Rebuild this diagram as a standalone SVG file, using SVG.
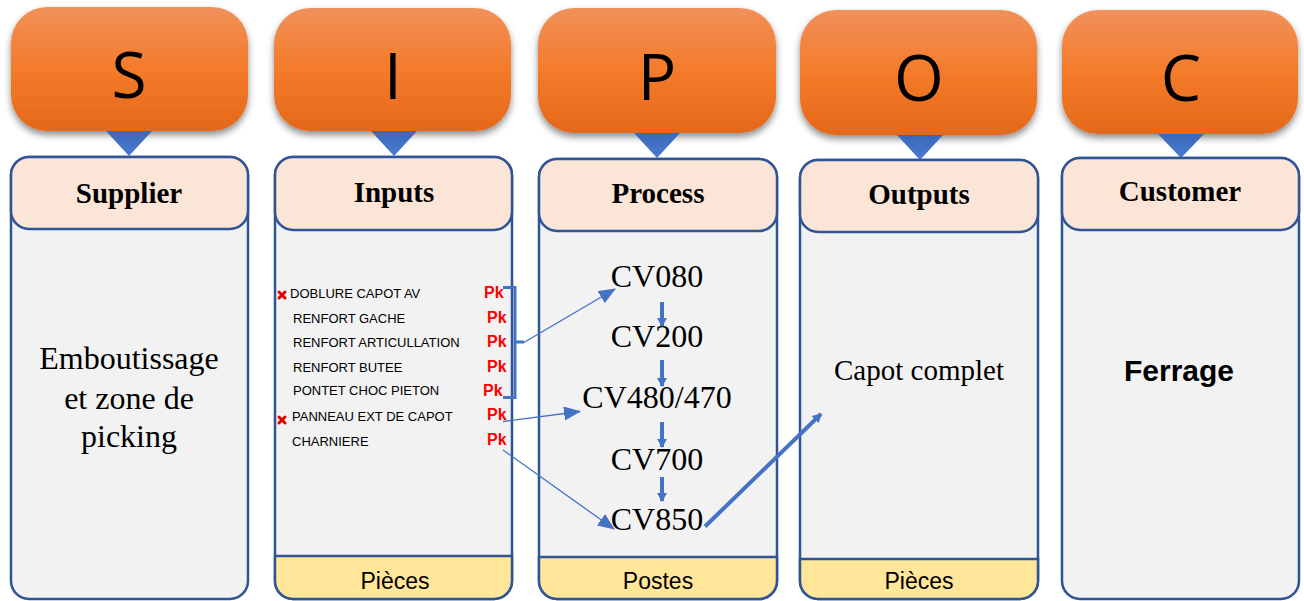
<svg xmlns="http://www.w3.org/2000/svg" width="1304" height="601" viewBox="0 0 1304 601">
<defs>
<linearGradient id="og" x1="0" y1="0" x2="0" y2="1">
<stop offset="0" stop-color="#F0915B"/>
<stop offset="0.5" stop-color="#F47B2A"/>
<stop offset="1" stop-color="#E4681A"/>
</linearGradient>
<linearGradient id="bg" x1="0" y1="0" x2="0" y2="1">
<stop offset="0" stop-color="#3B68B8"/>
<stop offset="1" stop-color="#4A7BD2"/>
</linearGradient>
<filter id="sh" x="-10%" y="-10%" width="120%" height="130%">
<feDropShadow dx="0" dy="4" stdDeviation="3.5" flood-color="#000" flood-opacity="0.45"/>
</filter>
<marker id="ah" markerUnits="userSpaceOnUse" markerWidth="18" markerHeight="14" refX="16" refY="7" orient="auto">
<path d="M0,0 L17,7 L0,14 Z" fill="#4472C4"/>
</marker>
<marker id="as" markerUnits="userSpaceOnUse" markerWidth="10" markerHeight="10" refX="8" refY="5" orient="auto">
<path d="M0,0 L9,5 L0,10 Z" fill="#4472C4"/>
</marker>
<style>
.orange{fill:url(#og);filter:url(#sh)}
.tri{fill:url(#bg)}
.col{fill:#F2F2F2;stroke:#2F5597;stroke-width:2.5}
.hdr{fill:#FBE5D6;stroke:#2F5597;stroke-width:2.5}
.band{fill:#FFE699;stroke:#2F5597;stroke-width:2.5}
.big{font-family:"Open Sans","Liberation Sans",sans-serif;font-size:64px;fill:#000;text-anchor:middle}
.ht{font-family:"Liberation Serif",serif;font-weight:bold;font-size:29px;fill:#000;text-anchor:middle}
.ser{font-family:"Liberation Serif",serif;font-size:32px;fill:#000;text-anchor:middle}
.cv{font-family:"Liberation Serif",serif;font-size:32px;fill:#000;text-anchor:middle}
.it{font-family:"Liberation Sans",sans-serif;font-size:13px;fill:#000}
.pk{font-family:"Liberation Sans",sans-serif;font-size:16px;font-weight:bold;fill:#FF0000}
.bt{font-family:"Liberation Sans",sans-serif;font-size:23px;fill:#000;text-anchor:middle}
.thin{stroke:#4472C4;stroke-width:1.3;fill:none}
.thick{stroke:#4472C4;stroke-width:4;fill:none}
.xm{stroke:#E00000;stroke-width:3;stroke-linecap:round}
</style>
</defs>
<rect width="1304" height="601" fill="#FFFFFF"/>

<g id="supplier">
<rect class="orange" x="11" y="7" width="237" height="124" rx="36"/>
<text class="big" x="129" y="98">S</text>
<path class="tri" d="M106,131 H152 L129,156 Z"/>
<rect class="col" x="11" y="157" width="237" height="442" rx="18"/>
<rect class="hdr" x="11" y="157" width="237" height="72" rx="18"/>
<text class="ht" x="129" y="203">Supplier</text>
<text class="ser" x="129" y="369">Emboutissage</text>
<text class="ser" x="129" y="409">et zone de</text>
<text class="ser" x="129" y="447">picking</text>
</g>

<g id="inputs">
<rect class="orange" x="274" y="8" width="237" height="123" rx="36"/>
<text class="big" x="393" y="99">I</text>
<path class="tri" d="M371,131 H417 L394,156 Z"/>
<rect class="col" x="275" y="157" width="237" height="442" rx="18"/>
<path class="band" d="M275,556 H512 V581 A18,18 0 0 1 494,599 H293 A18,18 0 0 1 275,581 Z"/>
<rect class="hdr" x="275" y="157" width="237" height="73" rx="18"/>
<text class="ht" x="394" y="202">Inputs</text>
<text class="bt" x="395" y="589">Pièces</text>
<path class="xm" d="M279,292 L285,298 M285,292 L279,298"/>
<path class="xm" d="M279,417 L285,423 M285,417 L279,423"/>
<text class="it" x="290" y="298">DOBLURE CAPOT AV</text>
<text class="it" x="293" y="323">RENFORT GACHE</text>
<text class="it" x="293" y="347">RENFORT ARTICULLATION</text>
<text class="it" x="293" y="372">RENFORT BUTEE</text>
<text class="it" x="293" y="395">PONTET CHOC PIETON</text>
<text class="it" x="292" y="421">PANNEAU EXT DE CAPOT</text>
<text class="it" x="292" y="446">CHARNIERE</text>
<text class="pk" x="484" y="298">Pk</text>
<text class="pk" x="487" y="323">Pk</text>
<text class="pk" x="487" y="347">Pk</text>
<text class="pk" x="487" y="372">Pk</text>
<text class="pk" x="483" y="396">Pk</text>
<text class="pk" x="487" y="420">Pk</text>
<text class="pk" x="487" y="445">Pk</text>
<path d="M503,287.5 H515 V397.5 H503 M515,342 H524" fill="none" stroke="#4472C4" stroke-width="3"/>
</g>

<g id="process">
<rect class="orange" x="538" y="8" width="238" height="125" rx="36"/>
<text class="big" x="657" y="100">P</text>
<path class="tri" d="M634,133 H680 L657,158 Z"/>
<rect class="col" x="539" y="159" width="238" height="440" rx="18"/>
<path class="band" d="M539,557 H777 V581 A18,18 0 0 1 759,599 H557 A18,18 0 0 1 539,581 Z"/>
<rect class="hdr" x="539" y="159" width="238" height="72" rx="18"/>
<text class="ht" x="658" y="203">Process</text>
<text class="bt" x="658" y="589">Postes</text>
<text class="cv" x="657" y="287">CV080</text>
<text class="cv" x="657" y="347">CV200</text>
<text class="cv" x="657" y="408">CV480/470</text>
<text class="cv" x="657" y="470">CV700</text>
<text class="cv" x="657" y="530">CV850</text>
</g>

<g id="outputs">
<rect class="orange" x="800" y="10" width="237" height="125" rx="36"/>
<text class="big" x="919" y="101">O</text>
<path class="tri" d="M897,135 H943 L920,160 Z"/>
<rect class="col" x="800" y="160" width="238" height="439" rx="18"/>
<path class="band" d="M800,559 H1038 V581 A18,18 0 0 1 1020,599 H818 A18,18 0 0 1 800,581 Z"/>
<rect class="hdr" x="800" y="160" width="238" height="72" rx="18"/>
<text class="ht" x="919" y="204">Outputs</text>
<text class="bt" x="919" y="589">Pièces</text>
<text class="ser" x="919" y="380" style="font-size:29px">Capot complet</text>
</g>

<g id="customer">
<rect class="orange" x="1062" y="10" width="236" height="124" rx="36"/>
<text class="big" x="1181" y="101">C</text>
<path class="tri" d="M1158,134 H1204 L1181,158 Z"/>
<rect class="col" x="1062" y="158" width="237" height="441" rx="18"/>
<rect class="hdr" x="1062" y="158" width="237" height="72" rx="18"/>
<text class="ht" x="1180" y="201">Customer</text>
<text x="1179" y="381" style="font-family:'Liberation Sans',sans-serif;font-weight:bold;font-size:30px;text-anchor:middle;fill:#000">Ferrage</text>
</g>

<g id="connectors">
<line class="thin" x1="523" y1="343" x2="615" y2="289" marker-end="url(#ah)"/>
<line class="thin" x1="503" y1="421.5" x2="580" y2="411.5" marker-end="url(#ah)"/>
<line class="thin" x1="503" y1="450" x2="614" y2="529" marker-end="url(#ah)"/>
<line class="thick" x1="662" y1="302" x2="662" y2="326" marker-end="url(#as)"/>
<line class="thick" x1="662" y1="360" x2="662" y2="386" marker-end="url(#as)"/>
<line class="thick" x1="662" y1="422" x2="662" y2="447" marker-end="url(#as)"/>
<line class="thick" x1="662" y1="477" x2="662" y2="501" marker-end="url(#as)"/>
<line class="thick" x1="705" y1="526.5" x2="821" y2="414" marker-end="url(#as)"/>
</g>
</svg>
